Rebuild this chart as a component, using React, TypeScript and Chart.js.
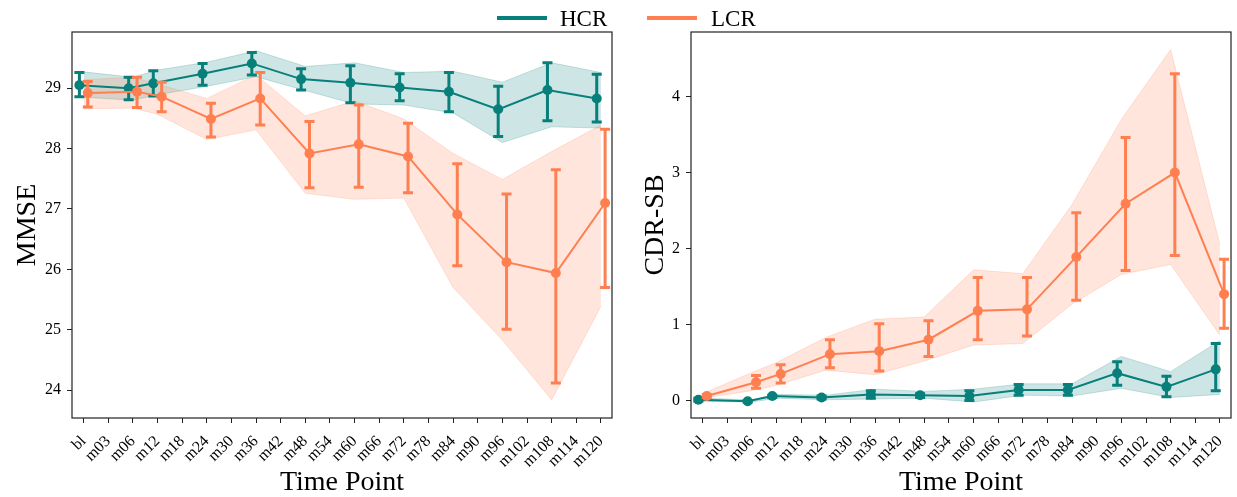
import React, { useEffect, useRef } from 'react';
import { Chart, registerables } from 'chart.js';

Chart.register(...registerables);

// ---------- data ----------
const timeLabels = ['bl', 'm03', 'm06', 'm12', 'm18', 'm24', 'm30', 'm36', 'm42', 'm48', 'm54', 'm60', 'm66', 'm72', 'm78', 'm84', 'm90', 'm96', 'm102', 'm108', 'm114', 'm120'];
const visits = ['bl', 'm06', 'm12', 'm24', 'm36', 'm48', 'm60', 'm72', 'm84', 'm96', 'm108', 'm120'];

const mmseTicks = [24, 25, 26, 27, 28, 29];
const cdrTicks = [0, 1, 2, 3, 4];

// MMSE - HCR
const mmseHcrMean = [29.05, 29.0, 29.08, 29.24, 29.41, 29.15, 29.09, 29.01, 28.94, 28.65, 28.97, 28.83];
const mmseHcrErrLow = [28.86, 28.81, 28.87, 29.05, 29.22, 28.97, 28.76, 28.79, 28.61, 28.2, 28.46, 28.44];
const mmseHcrErrHigh = [29.26, 29.18, 29.29, 29.41, 29.59, 29.32, 29.37, 29.24, 29.26, 29.03, 29.42, 29.23];
const mmseHcrBandLow = [28.85, 28.8, 28.89, 29.03, 29.19, 28.96, 28.74, 28.72, 28.59, 28.1, 28.36, 28.34];
const mmseHcrBandHigh = [29.27, 29.18, 29.3, 29.43, 29.62, 29.36, 29.42, 29.26, 29.28, 29.1, 29.42, 29.26];

// MMSE - LCR
const mmseLcrMean = [28.92, 28.94, 28.86, 28.49, 28.83, 27.92, 28.07, 27.87, 26.91, 26.12, 25.94, 27.1];
const mmseLcrErrLow = [28.69, 28.68, 28.61, 28.19, 28.39, 27.35, 27.36, 27.27, 26.06, 25.01, 24.12, 25.7];
const mmseLcrErrHigh = [29.11, 29.18, 29.1, 28.75, 29.26, 28.45, 28.72, 28.42, 27.75, 27.25, 27.65, 28.32];
const mmseLcrBandLow = [28.66, 28.67, 28.57, 28.15, 28.31, 27.26, 27.16, 27.18, 25.7, 24.83, 23.84, 25.39];
const mmseLcrBandHigh = [29.14, 29.18, 29.07, 28.83, 29.22, 28.54, 28.79, 28.49, 27.92, 27.49, 27.95, 28.39];

// CDR-SB - HCR
const cdrHcrMean = [0.01, -0.01, 0.06, 0.04, 0.08, 0.07, 0.06, 0.14, 0.14, 0.36, 0.18, 0.41];
const cdrHcrErrLow = [-0.01, -0.02, 0.04, 0.02, 0.03, 0.04, 0.0, 0.07, 0.07, 0.2, 0.05, 0.13];
const cdrHcrErrHigh = [0.03, 0.0, 0.07, 0.06, 0.13, 0.09, 0.13, 0.21, 0.21, 0.51, 0.32, 0.75];
const cdrHcrBandLow = [-0.01, -0.02, 0.03, 0.01, 0.02, 0.03, -0.02, 0.07, 0.06, 0.16, 0.04, 0.08];
const cdrHcrBandHigh = [0.03, 0.01, 0.08, 0.07, 0.15, 0.12, 0.15, 0.22, 0.22, 0.58, 0.38, 0.79];

// CDR-SB - LCR
const cdrLcrMean = [0.06, 0.24, 0.35, 0.61, 0.65, 0.8, 1.18, 1.2, 1.89, 2.59, 3.0, 1.4];
const cdrLcrErrLow = [0.04, 0.16, 0.23, 0.43, 0.39, 0.58, 0.8, 0.85, 1.32, 1.71, 1.91, 0.95];
const cdrLcrErrHigh = [0.08, 0.33, 0.47, 0.8, 1.01, 1.05, 1.62, 1.62, 2.47, 3.46, 4.3, 1.86];
const cdrLcrBandLow = [0.03, 0.13, 0.2, 0.4, 0.34, 0.52, 0.73, 0.75, 1.27, 1.66, 1.79, 0.86];
const cdrLcrBandHigh = [0.09, 0.37, 0.5, 0.83, 1.07, 1.1, 1.72, 1.67, 2.58, 3.7, 4.62, 2.05];

// ---------- styles ----------
const FONT = '"Liberation Serif", "Times New Roman", serif';
const TEAL = '#077f7a';
const CORAL = '#ff7f50';
const TEAL_BAND = 'rgba(7,127,122,0.2)';
const CORAL_BAND = 'rgba(255,127,80,0.2)';
const DODGE = 0.17;

const xPos = (shift: number) => visits.map((v) => timeLabels.indexOf(v) + shift);
const pts = (xs: number[], ys: number[]) => xs.map((x, i) => ({ x, y: ys[i] }));

const boxPlugin = {
  id: 'frameBox',
  afterDraw(chart: any) {
    const { ctx, chartArea } = chart;
    ctx.save();
    ctx.strokeStyle = '#222';
    ctx.lineWidth = 1.2;
    ctx.strokeRect(chartArea.left, chartArea.top, chartArea.right - chartArea.left, chartArea.bottom - chartArea.top);
    ctx.restore();
  },
};

const errorBarPlugin = {
  id: 'errBars',
  afterDatasetDraw(chart: any, args: any) {
    const ds = chart.data.datasets[args.index];
    if (!ds.errLow) return;
    const { ctx } = chart;
    const xs = chart.scales.x;
    const ys = chart.scales.y;
    ctx.save();
    ctx.strokeStyle = ds.borderColor;
    ctx.lineWidth = 3;
    ctx.lineCap = 'butt';
    ds.data.forEach((p: any, i: number) => {
      const px = xs.getPixelForValue(p.x);
      const lo = ys.getPixelForValue(ds.errLow[i]);
      const hi = ys.getPixelForValue(ds.errHigh[i]);
      ctx.beginPath();
      ctx.moveTo(px, lo);
      ctx.lineTo(px, hi);
      ctx.moveTo(px - 5, lo);
      ctx.lineTo(px + 5, lo);
      ctx.moveTo(px - 5, hi);
      ctx.lineTo(px + 5, hi);
      ctx.stroke();
    });
    ctx.restore();
  },
};

interface Series { mean: number[]; errLow: number[]; errHigh: number[]; bandLow: number[]; bandHigh: number[] }

interface PanelProps {
  width: number;
  yTitle: string;
  yMin: number;
  yMax: number;
  yTicks: number[];
  yAxisWidth: number;
  rightPad: number;
  yTitlePad: number;
  hcr: Series;
  lcr: Series;
}

function Panel(props: PanelProps) {
  const ref = useRef<HTMLCanvasElement | null>(null);
  useEffect(() => {
    if (!ref.current) return;
    const { hcr, lcr } = props;
    const xBand = xPos(0);
    const xH = xPos(-DODGE);
    const xL = xPos(DODGE);
    const chart = new Chart(ref.current, {
      type: 'line',
      data: {
        datasets: [
          { data: pts(xBand, hcr.bandLow), borderColor: TEAL_BAND, borderWidth: 1, pointRadius: 0, fill: false, order: 6 } as any,
          { data: pts(xBand, hcr.bandHigh), borderColor: TEAL_BAND, backgroundColor: TEAL_BAND, borderWidth: 1, pointRadius: 0, fill: '-1', order: 6 } as any,
          { data: pts(xBand, lcr.bandLow), borderColor: CORAL_BAND, borderWidth: 1, pointRadius: 0, fill: false, order: 5 } as any,
          { data: pts(xBand, lcr.bandHigh), borderColor: CORAL_BAND, backgroundColor: CORAL_BAND, borderWidth: 1, pointRadius: 0, fill: '-1', order: 5 } as any,
          { data: pts(xH, hcr.mean), borderColor: TEAL, backgroundColor: TEAL, borderWidth: 2, pointRadius: 5, pointBorderWidth: 0, fill: false, order: 2, errLow: hcr.errLow, errHigh: hcr.errHigh } as any,
          { data: pts(xL, lcr.mean), borderColor: CORAL, backgroundColor: CORAL, borderWidth: 2, pointRadius: 5, pointBorderWidth: 0, fill: false, order: 1, errLow: lcr.errLow, errHigh: lcr.errHigh } as any,
        ],
      },
      options: {
        animation: false,
        responsive: false,
        devicePixelRatio: 1,
        layout: { padding: { left: 0, top: 32, right: props.rightPad, bottom: 0 } },
        plugins: { legend: { display: false }, tooltip: { enabled: false } },
        scales: {
          x: {
            type: 'linear',
            min: -0.47,
            max: 21.45,
            afterBuildTicks: (s: any) => {
              s.ticks = timeLabels.map((_, i) => ({ value: i }));
            },
            afterFit: (s: any) => {
              s.height = 79;
            },
            ticks: {
              autoSkip: false,
              minRotation: 45,
              maxRotation: 45,
              padding: 9,
              color: '#000',
              font: { family: FONT, size: 16 },
              callback: (v: any) => timeLabels[Math.round(Number(v))] ?? '',
            },
            grid: { display: true, drawOnChartArea: false, drawTicks: true, tickLength: 5, color: '#222' },
            border: { display: false },
            title: { display: true, text: 'Time Point', color: '#000', font: { family: FONT, size: 28, lineHeight: 1 }, padding: { top: 0, bottom: 0 } },
          },
          y: {
            type: 'linear',
            min: props.yMin,
            max: props.yMax,
            afterBuildTicks: (s: any) => {
              s.ticks = props.yTicks.map((v) => ({ value: v }));
            },
            afterFit: (s: any) => {
              s.width = props.yAxisWidth;
            },
            ticks: { padding: 6, color: '#000', font: { family: FONT, size: 16 } },
            grid: { display: true, drawOnChartArea: false, drawTicks: true, tickLength: 5, color: '#222' },
            border: { display: false },
            title: { display: true, text: props.yTitle, color: '#000', font: { family: FONT, size: 28, lineHeight: 1 }, padding: { top: props.yTitlePad, bottom: 0 } },
          },
        },
      } as any,
      plugins: [boxPlugin, errorBarPlugin],
    });
    return () => chart.destroy();
  }, []);
  return <canvas ref={ref} width={props.width} height={497} style={{ display: 'block', width: props.width, height: 497 }} />;
}

export default function App() {
  const legendText: React.CSSProperties = { position: 'absolute', top: 6.7, fontFamily: FONT, fontSize: 23, lineHeight: '23px', color: '#000', whiteSpace: 'nowrap' };
  return (
    <div style={{ position: 'absolute', left: 0, top: 0, width: 1237, height: 497, background: '#fff', overflow: 'hidden' }}>
      <div style={{ position: 'absolute', left: 0, top: 0 }}>
        <Panel
          width={630}
          yTitle="MMSE"
          yMin={23.54}
          yMax={29.93}
          yTicks={mmseTicks}
          yAxisWidth={72}
          rightPad={18}
          yTitlePad={14}
          hcr={{ mean: mmseHcrMean, errLow: mmseHcrErrLow, errHigh: mmseHcrErrHigh, bandLow: mmseHcrBandLow, bandHigh: mmseHcrBandHigh }}
          lcr={{ mean: mmseLcrMean, errLow: mmseLcrErrLow, errHigh: mmseLcrErrHigh, bandLow: mmseLcrBandLow, bandHigh: mmseLcrBandHigh }}
        />
      </div>
      <div style={{ position: 'absolute', left: 630, top: 0 }}>
        <Panel
          width={627}
          yTitle="CDR-SB"
          yMin={-0.23}
          yMax={4.85}
          yTicks={cdrTicks}
          yAxisWidth={61}
          rightPad={26}
          yTitlePad={12}
          hcr={{ mean: cdrHcrMean, errLow: cdrHcrErrLow, errHigh: cdrHcrErrHigh, bandLow: cdrHcrBandLow, bandHigh: cdrHcrBandHigh }}
          lcr={{ mean: cdrLcrMean, errLow: cdrLcrErrLow, errHigh: cdrLcrErrHigh, bandLow: cdrLcrBandLow, bandHigh: cdrLcrBandHigh }}
        />
      </div>
      <div style={{ position: 'absolute', left: 497, top: 16, width: 50, height: 4, background: TEAL }} />
      <div style={{ ...legendText, left: 560 }}>HCR</div>
      <div style={{ position: 'absolute', left: 647, top: 16, width: 50, height: 4, background: CORAL }} />
      <div style={{ ...legendText, left: 711 }}>LCR</div>
    </div>
  );
}
